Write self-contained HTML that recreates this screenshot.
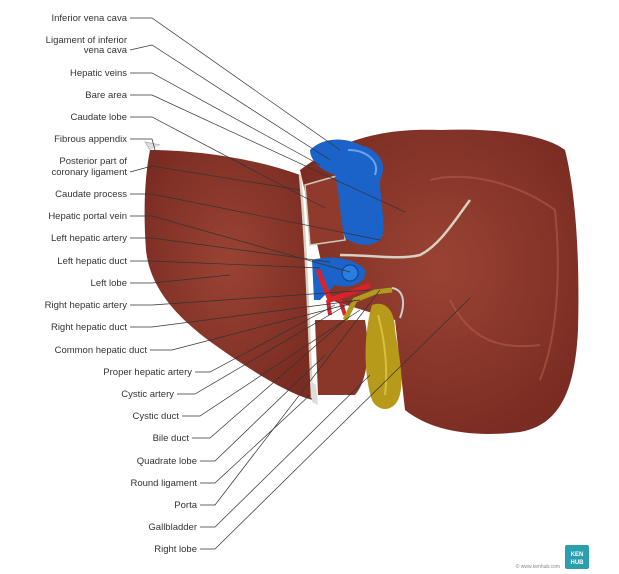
<!DOCTYPE html>
<html><head><meta charset="utf-8"><style>
html,body{margin:0;padding:0;background:#fff;}
svg{display:block;}
text{font-family:"Liberation Sans",sans-serif;font-size:9.5px;fill:#333;}
</style></head><body>
<svg width="619" height="574" viewBox="0 0 619 574">
<defs>
<radialGradient id="lv" cx="50%" cy="45%" r="60%">
<stop offset="0" stop-color="#9a4334"/><stop offset="1" stop-color="#7a2c22"/>
</radialGradient>
</defs>
<!-- right lobe -->
<path d="M300,170 C340,140 380,128 440,130 C500,128 545,135 565,150 C575,190 580,250 578,330 C575,390 560,425 520,432 C470,438 430,430 405,410 L395,320 L330,300 Z" fill="url(#lv)"/>
<path d="M430,180 C470,170 520,185 555,210 C560,260 560,330 540,380" fill="none" stroke="#b35a4a" stroke-width="2" opacity="0.6"/>
<path d="M450,300 C470,340 500,350 540,345" fill="none" stroke="#b35a4a" stroke-width="2" opacity="0.6"/>
<!-- left lobe -->
<path d="M150,150 C200,150 260,160 300,175 C305,230 308,300 310,360 L313,400 C290,395 250,370 215,345 C180,320 150,290 146,250 C143,210 145,175 150,150 Z" fill="url(#lv)"/>
<!-- quadrate lobe -->
<path d="M315,320 L365,320 C370,350 368,380 355,395 L318,395 Z" fill="#8a3629"/>
<!-- caudate -->
<path d="M305,185 L340,175 L345,240 L310,245 Z" fill="#8f3a2c" stroke="#ccb" stroke-width="1.5"/>
<!-- fissure lines -->
<path d="M300,175 C305,230 308,300 312,398" fill="none" stroke="#d8d0c0" stroke-width="2.5"/>
<path d="M340,255 C370,255 400,260 420,255 C440,245 455,220 470,200" fill="none" stroke="#d8d0c0" stroke-width="2.5"/>
<path d="M150,150 L145,142 L160,145" fill="#ddd" stroke="#bbb"/>
<!-- IVC -->
<path d="M310,150 C320,140 340,135 360,145 C380,150 388,165 380,180 C380,205 388,230 380,240 C370,248 355,245 345,238 C340,220 340,195 335,175 C320,170 310,160 310,150 Z" fill="#1b63c9"/>
<path d="M348,150 C365,150 380,160 375,175" fill="none" stroke="#6aa3ee" stroke-width="2"/>
<!-- portal vein -->
<path d="M312,260 C330,255 355,258 365,270 C368,282 350,290 335,285 L320,300 L314,300 Z" fill="#1b63c9"/>
<circle cx="350" cy="273" r="8" fill="#2a7ee0" stroke="#0e3e8a"/>
<!-- arteries -->
<path d="M318,270 L330,300 L345,295 L370,285" fill="none" stroke="#d8232a" stroke-width="5"/>
<path d="M328,300 L330,315 M340,300 L345,315" stroke="#d8232a" stroke-width="4"/>
<!-- ducts -->
<path d="M345,320 L355,300 L375,292 L392,290" fill="none" stroke="#b09a20" stroke-width="5"/>
<path d="M392,288 C405,290 405,305 400,318" fill="none" stroke="#ccc" stroke-width="2"/>
<!-- gallbladder -->
<path d="M372,305 C385,300 395,310 395,330 C400,360 405,385 398,400 C392,412 378,412 372,400 C365,380 362,340 372,305 Z" fill="#b89a1a"/>
<path d="M378,315 C385,340 388,370 385,395" fill="none" stroke="#d8bf40" stroke-width="2"/>
<!-- round ligament -->
<path d="M310,380 L312,402 L318,405 L316,385 Z" fill="#ddd"/>
<!-- leader lines -->
<g stroke="#333" stroke-width="0.7" fill="none">
<polyline points="130,18 152,18 340,150"/>
<polyline points="130,50 152,45 330,160"/>
<polyline points="130,73 152,73 320,165"/>
<polyline points="130,95 152,95 405,212"/>
<polyline points="130,117 152,117 325,208"/>
<polyline points="130,139 152,139 155,150"/>
<polyline points="130,172 152,166 300,190"/>
<polyline points="130,194 152,194 380,240"/>
<polyline points="130,216 152,216 350,272"/>
<polyline points="130,238 152,238 330,262"/>
<polyline points="130,261 152,261 320,268"/>
<polyline points="130,283 152,283 230,275"/>
<polyline points="130,305 152,305 370,290"/>
<polyline points="130,327 152,327 360,300"/>
<polyline points="150,350 172,350 345,305"/>
<polyline points="195,372 210,372 335,305"/>
<polyline points="177,394 195,394 355,300"/>
<polyline points="182,416 200,416 360,310"/>
<polyline points="192,438 210,438 345,320"/>
<polyline points="200,461 215,461 325,355"/>
<polyline points="200,483 215,483 310,395"/>
<polyline points="200,505 215,505 380,290"/>
<polyline points="200,527 215,527 370,375"/>
<polyline points="200,549 215,549 470,298"/>
</g>
<g text-anchor="end">
<text x="127" y="21">Inferior vena cava</text>
<text x="127" y="43">Ligament of inferior</text>
<text x="127" y="53">vena cava</text>
<text x="127" y="76">Hepatic veins</text>
<text x="127" y="98">Bare area</text>
<text x="127" y="120">Caudate lobe</text>
<text x="127" y="142">Fibrous appendix</text>
<text x="127" y="164">Posterior part of</text>
<text x="127" y="175">coronary ligament</text>
<text x="127" y="197">Caudate process</text>
<text x="127" y="219">Hepatic portal vein</text>
<text x="127" y="241">Left hepatic artery</text>
<text x="127" y="264">Left hepatic duct</text>
<text x="127" y="286">Left lobe</text>
<text x="127" y="308">Right hepatic artery</text>
<text x="127" y="330">Right hepatic duct</text>
<text x="147" y="353">Common hepatic duct</text>
<text x="192" y="375">Proper hepatic artery</text>
<text x="174" y="397">Cystic artery</text>
<text x="179" y="419">Cystic duct</text>
<text x="189" y="441">Bile duct</text>
<text x="197" y="464">Quadrate lobe</text>
<text x="197" y="486">Round ligament</text>
<text x="197" y="508">Porta</text>
<text x="197" y="530">Gallbladder</text>
<text x="197" y="552">Right lobe</text>
</g>
<text x="560" y="568" text-anchor="end" style="font-size:5px;fill:#888">© www.kenhub.com</text>
<rect x="565" y="545" width="24" height="24" rx="2" fill="#2a9fb0"/>
<text x="577" y="556" text-anchor="middle" style="font-size:6px;fill:#fff;font-weight:bold">KEN</text>
<text x="577" y="564" text-anchor="middle" style="font-size:6px;fill:#fff;font-weight:bold">HUB</text>
</svg>
</body></html>
